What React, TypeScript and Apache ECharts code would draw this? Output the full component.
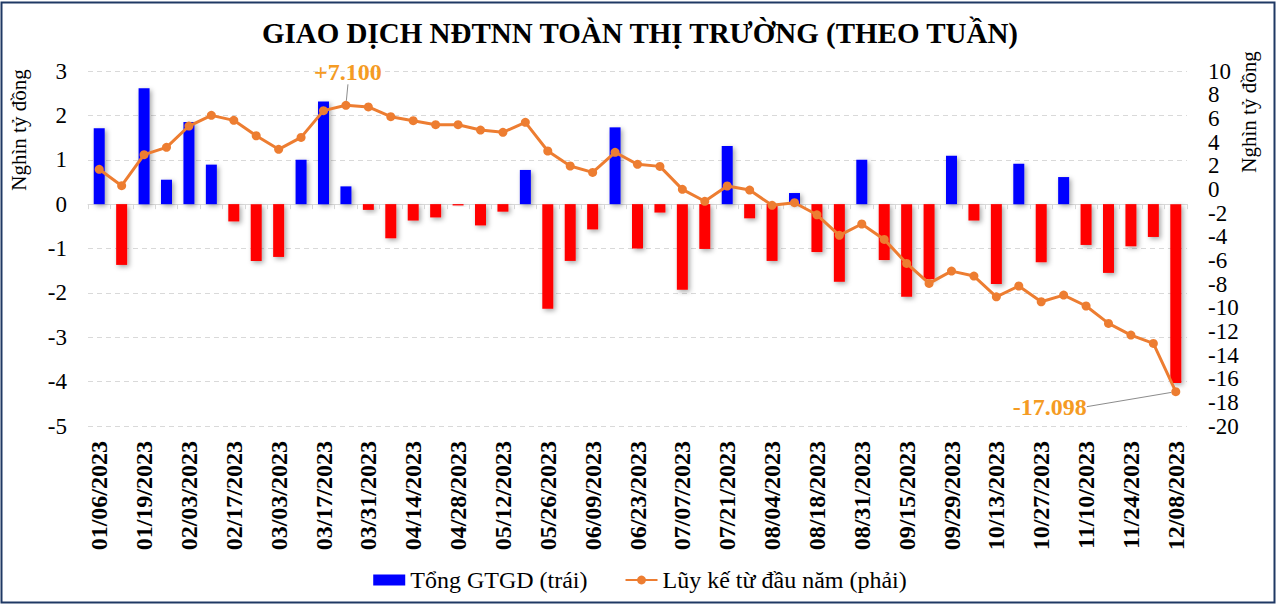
import React, { useEffect, useRef } from "react";
import * as echarts from "echarts";

const categories = [
  "01/06/2023", "01/13/2023", "01/19/2023", "01/27/2023", "02/03/2023", "02/10/2023", "02/17/2023",
  "02/24/2023", "03/03/2023", "03/10/2023", "03/17/2023", "03/24/2023", "03/31/2023", "04/07/2023",
  "04/14/2023", "04/21/2023", "04/28/2023", "05/05/2023", "05/12/2023", "05/19/2023", "05/26/2023",
  "06/02/2023", "06/09/2023", "06/16/2023", "06/23/2023", "06/30/2023", "07/07/2023", "07/14/2023",
  "07/21/2023", "07/28/2023", "08/04/2023", "08/11/2023", "08/18/2023", "08/25/2023", "08/31/2023",
  "09/08/2023", "09/15/2023", "09/22/2023", "09/29/2023", "10/06/2023", "10/13/2023", "10/20/2023",
  "10/27/2023", "11/03/2023", "11/10/2023", "11/17/2023", "11/24/2023", "12/01/2023", "12/08/2023",
];

// Tổng GTGD (trái) – nghìn tỷ đồng
const weeklyFlow = [
  1.71, -1.37, 2.61, 0.55, 1.85, 0.89, -0.39, -1.28, -1.19, 1.0, 2.31, 0.4, -0.13, -0.77, -0.37,
  -0.3, -0.03, -0.48, -0.17, 0.77, -2.36, -1.28, -0.57, 1.73, -1.0, -0.19, -1.93, -1.01, 1.31,
  -0.32, -1.28, 0.25, -1.08, -1.75, 1.0, -1.26, -2.09, -1.69, 1.09, -0.37, -1.8, 0.91, -1.31,
  0.61, -0.92, -1.55, -0.95, -0.74, -4.03,
];

// Lũy kế từ đầu năm (phải) – nghìn tỷ đồng
const cumulative = [
  1.69, 0.31, 2.93, 3.55, 5.35, 6.25, 5.83, 4.53, 3.38, 4.39, 6.65, 7.1, 6.96, 6.14, 5.8, 5.46,
  5.46, 5.01, 4.82, 5.66, 3.24, 1.97, 1.43, 3.13, 2.11, 1.94, 0.0, -1.01, 0.28, -0.06, -1.35,
  -1.13, -2.15, -3.89, -2.93, -4.23, -6.26, -7.95, -6.91, -7.33, -9.08, -8.17, -9.5, -8.94,
  -9.86, -11.33, -12.32, -13.02, -17.098,
];

const annotationIndex = [11, 48];
const annotationText = ["+7.100", "-17.098"];

const FONT = "Liberation Serif";
const BLUE = "#0000FF";
const RED = "#FF0000";
const ORANGE = "#ED7D31";
const NOTE = "#F59B23";

export default function App() {
  const ref = useRef<HTMLDivElement>(null);

  useEffect(() => {
    if (!ref.current) return;
    const chart = echarts.init(ref.current, null, { renderer: "svg" });

    const barData = weeklyFlow.map((v) => ({
      value: v,
      itemStyle: { color: v < 0 ? RED : BLUE },
    }));

    const lineData = cumulative.map((v, i) => {
      const k = annotationIndex.indexOf(i);
      if (k < 0) return v;
      return {
        value: v,
        label: {
          show: true,
          position: "inside",
          formatter: annotationText[k],
          color: NOTE,
          fontFamily: FONT,
          fontWeight: "bold",
          fontSize: 24,
        },
      };
    });

    chart.setOption({
      animation: false,
      backgroundColor: "#ffffff",
      textStyle: { fontFamily: FONT },
      title: {
        text: "GIAO DỊCH NĐTNN TOÀN THỊ TRƯỜNG (THEO TUẦN)",
        left: "center",
        top: 13,
        textStyle: { fontFamily: FONT, fontWeight: "bold", fontSize: 29, color: "#000" },
      },
      legend: {
        top: 563,
        left: "center",
        itemWidth: 32,
        itemHeight: 11,
        itemGap: 37,
        textStyle: { fontFamily: FONT, fontSize: 24, color: "#000" },
        data: [
          { name: "Tổng GTGD (trái)", icon: "rect", itemStyle: { color: BLUE } },
          { name: "Lũy kế từ đầu năm (phải)" },
        ],
      },
      grid: { left: 88, right: 93, top: 71, bottom: 181, containLabel: false },
      xAxis: [
        {
          type: "category",
          data: categories,
          position: "bottom",
          axisLine: { show: false, onZero: false },
          axisTick: { show: false },
          axisLabel: {
            interval: 1,
            rotate: 90,
            margin: 15,
            fontFamily: FONT,
            fontWeight: "bold",
            fontSize: 24,
            color: "#000",
          },
        },
        {
          type: "category",
          data: categories,
          position: "bottom",
          axisLine: { show: true, onZero: true, onZeroAxisIndex: 0, lineStyle: { color: "#D9D9D9", width: 1 } },
          axisTick: { show: true, interval: 0, length: 5, lineStyle: { color: "#D9D9D9" } },
          axisLabel: { show: false },
        },
      ],
      yAxis: [
        {
          type: "value",
          min: -5,
          max: 3,
          interval: 1,
          axisLine: { show: false },
          axisTick: { show: false },
          axisLabel: {
            margin: 21,
            fontFamily: FONT,
            fontSize: 23,
            color: "#000",
            showMinLabel: true,
            showMaxLabel: true,
          },
          splitLine: { show: true, lineStyle: { color: "#D9D9D9", type: [5, 4] } },
        },
        {
          type: "value",
          min: -20,
          max: 10,
          interval: 2,
          position: "right",
          axisLine: { show: false },
          axisTick: { show: false },
          axisLabel: {
            margin: 21,
            fontFamily: FONT,
            fontSize: 23,
            lineHeight: 20,
            color: "#000",
            showMinLabel: true,
            showMaxLabel: true,
          },
          splitLine: { show: false },
        },
      ],
      series: [
        {
          name: "Tổng GTGD (trái)",
          type: "bar",
          xAxisIndex: 0,
          yAxisIndex: 0,
          barWidth: "49%",
          data: barData,
          itemStyle: {
            color: BLUE,
            shadowColor: "rgba(0,0,0,0.35)",
            shadowBlur: 5,
            shadowOffsetX: 2,
            shadowOffsetY: 2,
          },
        },
        {
          name: "Lũy kế từ đầu năm (phải)",
          type: "line",
          xAxisIndex: 0,
          yAxisIndex: 1,
          data: lineData,
          symbol: "circle",
          symbolSize: 9,
          lineStyle: { color: ORANGE, width: 3 },
          itemStyle: { color: ORANGE },
          labelLine: { show: true, lineStyle: { color: "#8C8C8C", width: 1 } },
          labelLayout: (p: any) => {
            if (p.dataIndex === annotationIndex[0]) return { dx: 2, dy: -33 };
            if (p.dataIndex === annotationIndex[1]) return { dx: -126, dy: 15 };
            return {};
          },
          z: 5,
        },
      ],
      graphic: [
        {
          type: "rect",
          shape: { x: 1.5, y: 2.5, width: 1273, height: 600 },
          style: { fill: "none", stroke: "#1F3864", lineWidth: 2 },
          silent: true,
        },
        {
          type: "text",
          x: 19,
          y: 130,
          rotation: Math.PI / 2,
          style: {
            text: "Nghìn tỷ đồng",
            fontFamily: FONT,
            fontSize: 21,
            fill: "#000",
            textAlign: "center",
            textVerticalAlign: "middle",
          },
        },
        {
          type: "text",
          x: 1249,
          y: 112,
          rotation: Math.PI / 2,
          style: {
            text: "Nghìn tỷ đồng",
            fontFamily: FONT,
            fontSize: 21,
            fill: "#000",
            textAlign: "center",
            textVerticalAlign: "middle",
          },
        },
      ],
    });

    return () => chart.dispose();
  }, []);

  return (
    <div
      ref={ref}
      style={{ position: "fixed", left: 0, top: 0, width: 1280, height: 607, background: "#fff" }}
    />
  );
}
